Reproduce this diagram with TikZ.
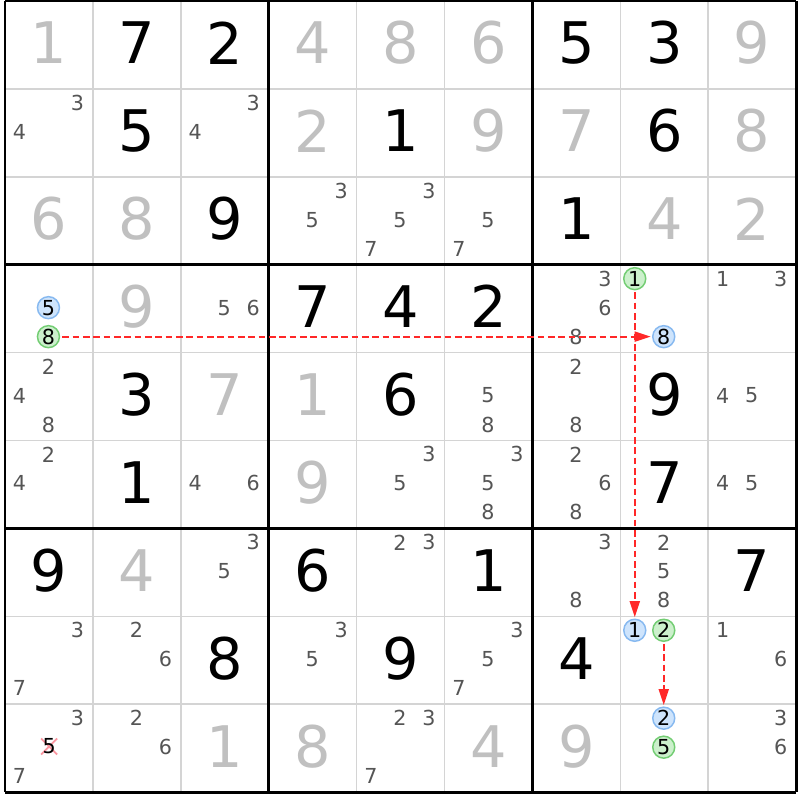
\documentclass[tikz,border=0pt]{standalone}
\usepackage{fontspec}
\setmainfont{DejaVu Sans}
\usetikzlibrary{arrows.meta}

\definecolor{solvedgray}{RGB}{192,192,192}
\definecolor{pencil}{RGB}{85,85,85}
\definecolor{gridgray}{RGB}{212,212,212}
\definecolor{linkred}{RGB}{255,40,40}
\definecolor{crossred}{RGB}{250,150,160}
\definecolor{onfill}{RGB}{206,228,252}
\definecolor{ondraw}{RGB}{135,185,240}
\definecolor{offfill}{RGB}{204,240,204}
\definecolor{offdraw}{RGB}{115,205,115}

\tikzset{
	given/.style={font=\fontsize{43}{43}\selectfont, text=black, inner sep=0pt},
	placed/.style={given, text=solvedgray},
	cand/.style={font=\fontsize{15.5}{15.5}\selectfont, text=pencil, inner sep=0pt},
	oncand/.style={cand, circle, text=black, draw=ondraw, fill=onfill, line width=1.1pt, minimum size=16.5pt},
	offcand/.style={oncand, draw=offdraw, fill=offfill},
	link/.style={linkred, line width=1.4pt, dash pattern=on 5pt off 2.75pt,
		shorten <=1.5pt, shorten >=1pt, -{Triangle[length=12pt,width=7.5pt]}},
}

\begin{document}
\begin{tikzpicture}[x=0.75pt, y=-0.75pt]
	\fill[white] (0,0) rectangle (800,800);
	\useasboundingbox (0,0) rectangle (800,800);

	% Grid
	\foreach \i in {1,2,4,5,7,8} {
		\draw[gridgray, line width=1.1pt] ({5+87.9*\i},1) -- ({5+87.9*\i},792.1);
		\draw[gridgray, line width=1.1pt] (5,{1+87.9*\i}) -- (796.1,{1+87.9*\i});
	}
	\foreach \i in {0,3,6,9} {
		\draw[line width=2.2pt] ({5+87.9*\i},1) -- ({5+87.9*\i},792.1);
		\draw[line width=2.2pt] (5,{1+87.9*\i}) -- (796.1,{1+87.9*\i});
	}

	% Givens
	\foreach \r/\c/\d in {0/1/7, 0/2/2, 0/6/5, 0/7/3, 1/1/5, 1/4/1, 1/7/6,
		2/2/9, 2/6/1, 3/3/7, 3/4/4, 3/5/2, 4/1/3, 4/4/6, 4/7/9, 5/1/1, 5/7/7,
		6/0/9, 6/3/6, 6/5/1, 6/8/7, 7/2/8, 7/4/9, 7/6/4}
		\node[given] (v\r\c) at ({48.95+87.9*\c},{42.95+87.9*\r}) {\d};

	% Solved cells
	\foreach \r/\c/\d in {0/0/1, 0/3/4, 0/4/8, 0/5/6, 0/8/9, 1/3/2, 1/5/9, 1/6/7, 1/8/8,
		2/0/6, 2/1/8, 2/7/4, 2/8/2, 3/1/9, 4/2/7, 4/3/1, 5/3/9, 6/1/4,
		8/2/1, 8/3/8, 8/5/4, 8/6/9}
		\node[placed] (v\r\c) at ({48.95+87.9*\c},{42.95+87.9*\r}) {\d};

	% Pencil marks
	\foreach \r/\c/\d/\s in {1/0/3/cand, 1/0/4/cand, 1/2/3/cand, 1/2/4/cand,
		2/3/3/cand, 2/3/5/cand, 2/4/3/cand, 2/4/5/cand, 2/4/7/cand, 2/5/5/cand, 2/5/7/cand,
		3/0/5/oncand, 3/0/8/offcand, 3/2/5/cand, 3/2/6/cand, 3/6/3/cand, 3/6/6/cand, 3/6/8/cand,
		3/7/1/offcand, 3/7/8/oncand, 3/8/1/cand, 3/8/3/cand,
		4/0/2/cand, 4/0/4/cand, 4/0/8/cand, 4/5/5/cand, 4/5/8/cand, 4/6/2/cand, 4/6/8/cand,
		4/8/4/cand, 4/8/5/cand,
		5/0/2/cand, 5/0/4/cand, 5/2/4/cand, 5/2/6/cand, 5/4/3/cand, 5/4/5/cand,
		5/5/3/cand, 5/5/5/cand, 5/5/8/cand, 5/6/2/cand, 5/6/6/cand, 5/6/8/cand,
		5/8/4/cand, 5/8/5/cand,
		6/2/3/cand, 6/2/5/cand, 6/4/2/cand, 6/4/3/cand, 6/6/3/cand, 6/6/8/cand,
		6/7/2/cand, 6/7/5/cand, 6/7/8/cand,
		7/0/3/cand, 7/0/7/cand, 7/1/2/cand, 7/1/6/cand, 7/3/3/cand, 7/3/5/cand,
		7/5/3/cand, 7/5/5/cand, 7/5/7/cand, 7/7/1/oncand, 7/7/2/offcand, 7/8/1/cand, 7/8/6/cand,
		8/0/3/cand, 8/0/7/cand, 8/1/2/cand, 8/1/6/cand, 8/4/2/cand, 8/4/3/cand, 8/4/7/cand,
		8/7/2/oncand, 8/7/5/offcand, 8/8/3/cand, 8/8/6/cand} {
		\pgfmathsetmacro\px{48.45+87.9*\c+29*(mod(\d-1,3)-1)}
		\pgfmathsetmacro\py{43.95+87.9*\r+29*(floor((\d-1)/3)-1)}
		\node[\s] (p\r\c\d) at (\px,\py) {\d};
	}

	% Eliminated
	\coordinate (x805) at (49.2,746.5);
	\draw[crossred, line width=1.3pt]
		([shift={(-8,-8)}]x805) -- ([shift={(8,8)}]x805)
		([shift={(-8,8)}]x805) -- ([shift={(8,-8)}]x805);
	\node[cand, text=black] (p805) at (x805) {5};

	% Links
	\draw[link] (p308) -- (p378);
	\draw[link] (p371) -- (p771);
	\draw[link] (p772) -- (p872);
\end{tikzpicture}
\end{document}
